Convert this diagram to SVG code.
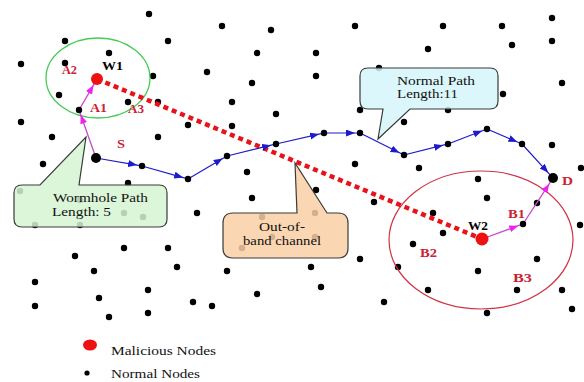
<svg xmlns="http://www.w3.org/2000/svg" width="584" height="382" viewBox="0 0 584 382">
<defs>
<style>
.n{fill:#000}
.lbl{font-family:"Liberation Serif",serif;font-weight:bold;font-size:12.5px;fill:#cc2233}
.lblk{font-family:"Liberation Serif",serif;font-weight:bold;font-size:12.5px;fill:#000}
.txt{font-family:"Liberation Serif",serif;font-size:12.5px;fill:#111}
.blue{fill:none;stroke:#1c1ccc;stroke-width:1.2;marker-mid:url(#ab)}
.mag{fill:none;stroke:#c44ad0;stroke-width:1.3;marker-mid:url(#am)}
.call{stroke:#3a3a3a;stroke-width:1.2;fill-opacity:0.85}
</style>
<marker id="ab" markerUnits="userSpaceOnUse" markerWidth="10" markerHeight="8" refX="9" refY="3.5" orient="auto"><path d="M0,0 L9,3.5 L0,7 z" fill="#1c1ccc"/></marker>
<marker id="am" markerUnits="userSpaceOnUse" markerWidth="10" markerHeight="8" refX="9" refY="3.5" orient="auto"><path d="M0,0 L9,3.5 L0,7 z" fill="#ee22ee"/></marker>
</defs>
<rect width="584" height="382" fill="#fff"/>

<g id="normal-nodes">
<circle class="n" cx="149" cy="14" r="3.2"/><circle class="n" cx="222" cy="26" r="3.2"/><circle class="n" cx="271" cy="30" r="3.2"/><circle class="n" cx="355" cy="26" r="3.2"/><circle class="n" cx="443" cy="26" r="3.2"/><circle class="n" cx="502" cy="26" r="3.2"/><circle class="n" cx="552" cy="18" r="3.2"/>
<circle class="n" cx="552" cy="41" r="3.2"/><circle class="n" cx="512" cy="45" r="3.2"/><circle class="n" cx="428" cy="49" r="3.2"/><circle class="n" cx="65" cy="41" r="3.2"/><circle class="n" cx="168" cy="41" r="3.2"/>
<circle class="n" cx="109" cy="53" r="3.2"/><circle class="n" cx="257" cy="53" r="3.2"/><circle class="n" cx="316" cy="53" r="3.2"/>
<circle class="n" cx="21" cy="64" r="3.2"/><circle class="n" cx="65" cy="63" r="3.2"/><circle class="n" cx="207" cy="72" r="3.2"/><circle class="n" cx="153" cy="76" r="3.2"/><circle class="n" cx="316" cy="76" r="3.2"/><circle class="n" cx="379" cy="68" r="3.2"/>
<circle class="n" cx="252" cy="83" r="3.2"/><circle class="n" cx="562" cy="83" r="3.2"/><circle class="n" cx="59" cy="95" r="3.2"/><circle class="n" cx="503" cy="94" r="3.2"/>
<circle class="n" cx="128" cy="102" r="3.2"/><circle class="n" cx="158" cy="102" r="3.2"/><circle class="n" cx="232" cy="102" r="3.2"/>
<circle class="n" cx="276" cy="114" r="3.2"/><circle class="n" cx="360" cy="110" r="3.2"/><circle class="n" cx="448" cy="110" r="3.2"/>
<circle class="n" cx="21" cy="122" r="3.2"/><circle class="n" cx="188" cy="125" r="3.2"/><circle class="n" cx="232" cy="126" r="3.2"/><circle class="n" cx="404" cy="122" r="3.2"/>
<circle class="n" cx="52" cy="137" r="3.2"/><circle class="n" cx="158" cy="137" r="3.2"/><circle class="n" cx="552" cy="145" r="3.2"/>
<circle class="n" cx="43" cy="164" r="3.2"/><circle class="n" cx="355" cy="164" r="3.2"/><circle class="n" cx="419" cy="168" r="3.2"/><circle class="n" cx="581" cy="168" r="3.2"/><circle class="n" cx="247" cy="172" r="3.2"/>
<circle class="n" cx="128" cy="183" r="3.2"/><circle class="n" cx="316" cy="190" r="3.2"/><circle class="n" cx="252" cy="198" r="3.2"/><circle class="n" cx="487" cy="198" r="3.2"/><circle class="n" cx="478" cy="179" r="3.2"/>
<circle class="n" cx="374" cy="202" r="3.2"/><circle class="n" cx="537" cy="203" r="3.2"/><circle class="n" cx="197" cy="213" r="3.2"/><circle class="n" cx="433" cy="213" r="3.2"/>
<circle class="n" cx="443" cy="233" r="3.2"/><circle class="n" cx="413" cy="244" r="3.2"/><circle class="n" cx="580" cy="225" r="3.2"/><circle class="n" cx="124" cy="248" r="3.2"/><circle class="n" cx="168" cy="248" r="3.2"/><circle class="n" cx="75" cy="256" r="3.2"/>
<circle class="n" cx="360" cy="259" r="3.2"/><circle class="n" cx="537" cy="259" r="3.2"/><circle class="n" cx="177" cy="267" r="3.2"/><circle class="n" cx="311" cy="267" r="3.2"/><circle class="n" cx="398" cy="267" r="3.2"/><circle class="n" cx="94" cy="271" r="3.2"/><circle class="n" cx="227" cy="271" r="3.2"/><circle class="n" cx="478" cy="271" r="3.2"/>
<circle class="n" cx="35" cy="282" r="3.2"/><circle class="n" cx="321" cy="287" r="3.2"/><circle class="n" cx="148" cy="290" r="3.2"/><circle class="n" cx="428" cy="290" r="3.2"/><circle class="n" cx="517" cy="290" r="3.2"/><circle class="n" cx="562" cy="290" r="3.2"/><circle class="n" cx="257" cy="294" r="3.2"/><circle class="n" cx="99" cy="298" r="3.2"/>
<circle class="n" cx="35" cy="306" r="3.2"/><circle class="n" cx="193" cy="302" r="3.2"/><circle class="n" cx="212" cy="306" r="3.2"/><circle class="n" cx="384" cy="302" r="3.2"/><circle class="n" cx="572" cy="309" r="3.2"/><circle class="n" cx="109" cy="317" r="3.2"/><circle class="n" cx="148" cy="313" r="3.2"/><circle class="n" cx="487" cy="313" r="3.2"/>
<circle class="n" cx="20" cy="191" r="3.2"/><circle class="n" cx="80" cy="200" r="3.2"/><circle class="n" cx="124" cy="213" r="3.2"/><circle class="n" cx="143" cy="217" r="3.2"/><circle class="n" cx="35" cy="225" r="3.2"/><circle class="n" cx="80" cy="225" r="3.2"/>
<circle class="n" cx="262" cy="217" r="3.2"/><circle class="n" cx="315" cy="213" r="3.2"/><circle class="n" cx="272" cy="237" r="3.2"/><circle class="n" cx="315" cy="237" r="3.2"/><circle class="n" cx="242" cy="248" r="3.2"/>
</g>

<g id="areas">
<ellipse cx="98" cy="78" rx="52" ry="40" fill="none" stroke="#44cc55" stroke-width="1.3"/>
<ellipse cx="481" cy="240" rx="92" ry="69" fill="none" stroke="#cc3344" stroke-width="1.2"/>
</g>

<g id="connectors">
<line id="out-of-band" x1="97" y1="79" x2="482" y2="239" stroke="#e8131a" stroke-width="4.5" stroke-dasharray="5 4"/>
<path class="blue" d="M96,158 L137.1,165.1 L142,166"/>
<path class="blue" d="M142,166 L183.2,177.6 L188,179"/>
<path class="blue" d="M188,179 L222.7,158.5 L227,156"/>
<path class="blue" d="M227,156 L271.1,145.2 L276,144"/>
<path class="blue" d="M276,144 L319.1,134.1 L324,133"/>
<path class="blue" d="M324,133 L355,133 L360,133"/>
<path class="blue" d="M360,133 L399.5,152.8 L404,155"/>
<path class="blue" d="M404,155 L443.1,145.2 L448,144"/>
<path class="blue" d="M448,144 L482.3,130.8 L487,129"/>
<path class="blue" d="M487,129 L517.4,142 L522,144"/>
<path class="blue" d="M522,144 L548.3,172.8 L553,178"/>
<path class="mag" d="M96,158 L80.7,114.7 L79,110"/>
<path class="mag" d="M79,110 L93.5,85.1 L97,79"/>
<path class="mag" d="M482,239 L518.3,225.7 L523,224"/>
<path class="mag" d="M523,224 L549.2,183.9 L553,178"/>
</g>

<g id="path-nodes">
<circle class="n" cx="142" cy="166" r="3.2"/><circle class="n" cx="188" cy="179" r="3.2"/><circle class="n" cx="227" cy="156" r="3.2"/><circle class="n" cx="276" cy="144" r="3.2"/><circle class="n" cx="324" cy="133" r="3.2"/><circle class="n" cx="360" cy="133" r="3.2"/><circle class="n" cx="404" cy="155" r="3.2"/><circle class="n" cx="448" cy="144" r="3.2"/><circle class="n" cx="487" cy="129" r="3.2"/><circle class="n" cx="522" cy="144" r="3.2"/>
</g>
<g id="A1"><circle class="n" cx="79" cy="110" r="3.2"/><text class="lbl" x="90" y="112" textLength="17" lengthAdjust="spacingAndGlyphs">A1</text></g>
<g id="A2"><text class="lbl" x="62" y="74" textLength="15" lengthAdjust="spacingAndGlyphs">A2</text></g>
<g id="A3"><text class="lbl" x="128" y="113" textLength="16" lengthAdjust="spacingAndGlyphs">A3</text></g>
<g id="B1"><circle class="n" cx="523" cy="224" r="3.2"/><text class="lbl" x="508" y="218" textLength="17" lengthAdjust="spacingAndGlyphs">B1</text></g>
<g id="B2"><text class="lbl" x="420" y="257" textLength="17" lengthAdjust="spacingAndGlyphs">B2</text></g>
<g id="B3"><text class="lbl" x="513" y="282" textLength="19" lengthAdjust="spacingAndGlyphs">B3</text></g>
<g id="S"><circle class="n" cx="96" cy="158" r="5"/><text class="lbl" x="117" y="148" textLength="8" lengthAdjust="spacingAndGlyphs">S</text></g>
<g id="D"><circle class="n" cx="553" cy="178" r="5"/><text class="lbl" x="562" y="185" textLength="11" lengthAdjust="spacingAndGlyphs">D</text></g>
<g id="W1"><circle cx="97" cy="79" r="6" fill="#ee1111"/><text class="lblk" x="102" y="70" textLength="21" lengthAdjust="spacingAndGlyphs">W1</text></g>
<g id="W2"><circle cx="482" cy="239" r="6.5" fill="#ee1111"/><text class="lblk" x="468" y="230" textLength="20" lengthAdjust="spacingAndGlyphs">W2</text></g>

<g id="callout-wormhole">
<path class="call" fill="#d6f5d4" d="M22,185 L40,185 L86,137 L79,185 L159,185 Q167,185 167,193 L167,219 Q167,227 159,227 L22,227 Q14,227 14,219 L14,193 Q14,185 22,185 Z"/>
<text class="txt" x="53" y="202" textLength="95" lengthAdjust="spacingAndGlyphs">Wormhole Path</text>
<text class="txt" x="52" y="216" textLength="59" lengthAdjust="spacingAndGlyphs">Length: 5</text>
</g>
<g id="callout-normal">
<path class="call" fill="#d6f6fb" d="M368,68 L490,68 Q498,68 498,76 L498,101 Q498,109 490,109 L410,109 L378,139 L383,109 L368,109 Q360,109 360,101 L360,76 Q360,68 368,68 Z"/>
<text class="txt" x="397" y="85" textLength="78" lengthAdjust="spacingAndGlyphs">Normal Path</text>
<text class="txt" x="397" y="98" textLength="61" lengthAdjust="spacingAndGlyphs">Length:11</text>
</g>
<g id="callout-oob">
<path class="call" fill="#f9d0a4" d="M233,213 L297,213 L295,163 L327,213 L338,213 Q348,213 348,223 L348,248 Q348,258 338,258 L233,258 Q223,258 223,248 L223,223 Q223,213 233,213 Z"/>
<text class="txt" x="259" y="231" font-size="12" style="font-size:12px" textLength="46" lengthAdjust="spacingAndGlyphs">Out-of-</text>
<text class="txt" x="243" y="245" style="font-size:12px" textLength="78" lengthAdjust="spacingAndGlyphs">band channel</text>
</g>

<g id="legend">
<ellipse cx="90" cy="345" rx="7" ry="5.5" fill="#ee1111"/>
<text class="txt" x="111" y="355" textLength="105" lengthAdjust="spacingAndGlyphs">Malicious Nodes</text>
<circle class="n" cx="87" cy="373" r="2.6"/>
<text class="txt" x="111" y="378" textLength="89" lengthAdjust="spacingAndGlyphs">Normal Nodes</text>
</g>
</svg>
